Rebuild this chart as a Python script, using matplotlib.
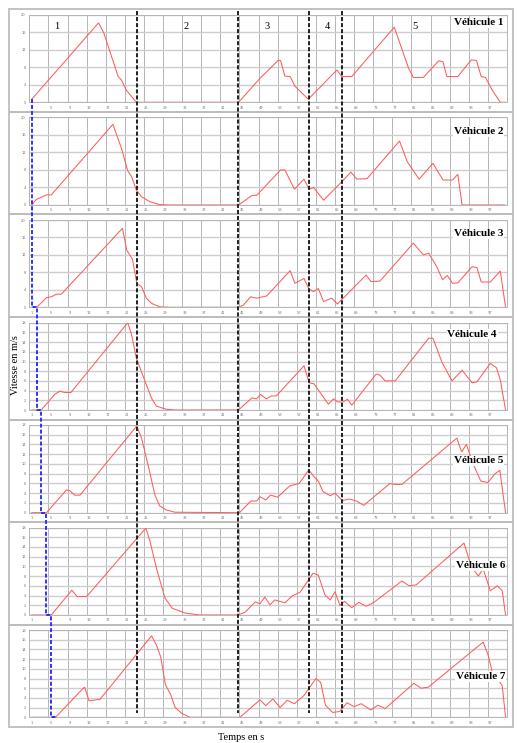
import numpy as np
import matplotlib
matplotlib.use('Agg')
import matplotlib.pyplot as plt
from matplotlib.lines import Line2D
from matplotlib.patches import Rectangle

# vitesses (m/s) en fonction du temps (s), une serie par vehicule
t_v1 = [1, 15, 16.1, 19.1, 19.8, 20.8, 22.9, 44.3, 48.8, 52.6, 53.1, 54.0, 55.1, 56.1, 58.9,
        64.9, 65.9, 68.0, 76.9, 79.9, 80.9, 83.0, 86.2, 87.1, 87.9, 90.2, 93.0, 94.1, 95.1,
        96.0, 97.4, 99.1, 100]
v_v1 = [0.7, 18.2, 15.9, 5.9, 5.1, 2.8, 0, 0, 5.5, 9.6, 9.6, 6.0, 5.9, 3.7, 0.7,
        7.4, 5.9, 5.9, 17.2, 7.8, 5.7, 5.7, 9.5, 9.3, 5.9, 5.9, 9.7, 9.6, 5.9,
        5.7, 2.8, 0, 0]

t_v2 = [1, 2, 4.1, 5.1, 18.0, 19.8, 21.1, 21.9, 22.9, 24.0, 25.7, 27.8, 30, 44.3, 46.0, 47.1,
        48.1, 53.1, 54.0, 56.0, 58.0, 59.1, 60.0, 62.1, 66.1, 67.8, 69.1, 71.2, 78.0, 79.6,
        82.1, 85.0, 87.1, 89.1, 90.2, 91.1, 100]
v_v2 = [0, 1.3, 2.3, 2.3, 18.4, 12.9, 7.8, 6.5, 3.4, 1.9, 0.75, 0.1, 0, 0, 1.3, 2.2,
        2.2, 8.0, 8.0, 3.6, 5.9, 3.6, 4.0, 1.1, 5.5, 7.5, 5.9, 6.0, 14.6, 9.9,
        5.9, 9.5, 5.7, 5.7, 7.0, 0, 0]

t_v3 = [1, 2.05, 4.1, 5.1, 6.2, 7.2, 20.0, 20.9, 22.1, 23.0, 24.0, 25.0, 26.1, 27.8, 30, 44.3,
        45.3, 46.8, 48.1, 50.2, 55.1, 56.1, 58.0, 59.1, 60.0, 61.0, 62.1, 63.8, 65.0, 71.0,
        72.0, 73.9, 80.9, 83.0, 84.1, 85.8, 87.0, 88.0, 89.1, 90.2, 93.2, 94.2, 95.1, 97.0,
        99.1, 100.2]
v_v3 = [0, 0, 2.2, 2.4, 3.0, 3.0, 18.1, 13.1, 11.0, 5.5, 4.7, 2.1, 0.9, 0.1, 0, 0,
        0.5, 2.4, 2.1, 2.6, 8.4, 5.5, 6.6, 4.1, 3.6, 4.3, 1.3, 2.1, 0.75, 7.4,
        5.9, 6.0, 14.7, 12.0, 12.4, 9.3, 6.3, 7.3, 5.5, 5.6, 9.3, 9.1, 5.8, 5.8,
        8.3, 0]

t_v4 = [1, 3.0, 5.8, 6.9, 7.9, 9.2, 21.1, 21.9, 22.9, 25.0, 26.1, 27.1, 29.2, 31, 44.3, 47.1,
        48.1, 48.9, 50.1, 51.2, 52.2, 58.0, 59.1, 60.1, 63.1, 64.2, 65.0, 66.1, 67.1, 68.0,
        73.1, 73.9, 75.0, 77.1, 84.1, 85.0, 86.9, 89.0, 91.1, 93.2, 94.2, 97.0, 98.3, 99.1,
        100.2]
v_v4 = [0, 0, 3.2, 3.9, 3.6, 3.6, 18.0, 15.6, 10.7, 5.2, 2.4, 0.8, 0.15, 0, 0, 2.5,
        2.3, 3.2, 2.3, 2.9, 2.9, 9.1, 5.6, 5.4, 1.2, 2.3, 1.7, 1.6, 2.2, 1.0,
        7.4, 7.2, 6.0, 6.0, 14.8, 14.8, 9.8, 6.0, 8.2, 5.6, 5.8, 9.6, 8.7, 6.2,
        0]

t_v5 = [1, 4.1, 8.3, 9.0, 10.0, 11.1, 23.0, 24.0, 25.6, 26.8, 27.8, 29.2, 31.0, 44.5, 46.9,
        48.1, 48.8, 50.0, 51.0, 52.5, 55.0, 57.0, 59.0, 60.0, 61.0, 62.0, 63.5, 64.5, 66.0,
        67.5, 69.0, 70.5, 76.0, 77.0, 78.5, 90.0, 91.0, 92.0, 93.5, 95.0, 96.5, 98.0, 99.0,
        100.2]
v_v5 = [0, 0, 4.7, 4.5, 3.6, 3.6, 17.8, 15.3, 8.8, 3.6, 1.4, 0.55, 0.1, 0, 2.4,
        2.4, 3.3, 2.6, 3.6, 3.2, 5.5, 6.0, 8.8, 7.5, 6.5, 4.3, 3.5, 4.0, 2.5,
        2.8, 2.4, 1.5, 6.0, 5.8, 5.8, 15.3, 12.5, 14.0, 9.8, 6.5, 6.2, 8.0, 8.7,
        0]

t_v6 = [1, 5.1, 9.4, 10.5, 12.5, 24.9, 25.7, 27.2, 28.9, 30.4, 33.1, 36.2, 44.2, 45.7, 47.8,
        48.8, 49.8, 50.9, 51.9, 54.0, 55.5, 57.2, 59.9, 61.0, 62.4, 63.5, 64.5, 65.5, 66.5,
        68.0, 69.5, 71.0, 72.5, 78.5, 80.0, 81.5, 91.5, 93.0, 94.5, 95.5, 97.0, 98.5, 99.5,
        100.2]
v_v6 = [0, 0, 5.1, 3.8, 3.8, 17.9, 15.4, 9.3, 3.5, 1.4, 0.4, 0, 0, 0.6, 2.7,
        2.3, 3.7, 2.1, 3.1, 2.5, 3.9, 4.7, 8.6, 8.2, 4.1, 3.1, 4.8, 2.0, 2.8,
        1.5, 2.6, 1.8, 2.5, 7.0, 6.0, 6.2, 14.8, 10.0, 8.0, 9.5, 5.0, 6.0, 5.0,
        0]

t_v7 = [1, 6.0, 11.8, 12.1, 13.0, 15.3, 26.1, 27.1, 28.0, 29.0, 30.1, 31.0, 32.4, 34.1, 44.6,
        48.8, 50.0, 51.5, 53.0, 54.5, 56.0, 58.0, 60.5, 61.5, 62.5, 64.0, 65.5, 67.0, 68.5,
        70.0, 72.0, 73.5, 75.0, 81.0, 82.5, 84.0, 95.5, 96.5, 97.5, 98.5, 99.5, 100.2]
v_v7 = [0, 0, 6.0, 6.2, 3.4, 3.7, 16.8, 14.9, 12.5, 6.7, 4.7, 2.1, 0.8, 0, 0,
        3.6, 2.4, 3.8, 2.0, 3.5, 2.8, 4.5, 8.0, 7.2, 2.5, 1.0, 1.2, 3.0, 2.2,
        2.8, 1.5, 2.5, 1.8, 7.0, 6.0, 6.2, 15.5, 13.0, 9.0, 8.0, 6.5, 0]

temps = [t_v1, t_v2, t_v3, t_v4, t_v5, t_v6, t_v7]
vitesses = [v_v1, v_v2, v_v3, v_v4, v_v5, v_v6, v_v7]
vmax = [20, 20, 20, 18, 18, 18, 18]
vpas = [4, 4, 4, 2, 2, 2, 2]

# instants de depart des vehicules et limites des phases
depart = [1, 1, 2.05, 3.0, 4.05, 5.1, 6.0]
phases = [23.0, 44.2, 59.1, 66.0]
noms_phases = ['1', '2', '3', '4', '5']
x_noms_phases = [6.2, 33.4, 50.2, 62.8, 81.3]
y_titres = [0.91, 0.84, 0.84, 0.87, 0.59, 0.56, 0.47]
x_titres = [0.992, 0.992, 0.992, 0.979, 0.992, 0.996, 0.996]

W, H = 517.0, 743.0
haut = [15, 117.3, 220, 322.7, 425, 527.5, 630]
bas = [102.3, 205, 307.3, 410, 512.7, 615, 717.3]
cadres = [9.3, 112.3, 214.3, 317.3, 420, 522.3, 625, 726.7]
gauche, droite = 29.3, 507.0

serif = 'Liberation Serif'
fig = plt.figure(figsize=(W / 100, H / 100), dpi=100)
fig.patch.set_facecolor('white')

# cadres des graphiques
for k in range(7):
    fig.add_artist(Rectangle((9.3 / W, 1 - cadres[k + 1] / H), (512.5 - 9.3) / W,
                             (cadres[k + 1] - cadres[k]) / H, transform=fig.transFigure,
                             fill=False, ec='#bdbdbd', lw=1.3))

axes = []
for i in range(7):
    ax = fig.add_axes([gauche / W, 1 - bas[i] / H, (droite - gauche) / W, (bas[i] - haut[i]) / H])
    ax.plot(temps[i], vitesses[i], color='#ff5c5c', lw=0.75, zorder=3)
    ax.set_xlim(0.5, 100.5)
    ax.set_ylim(0, vmax[i])
    ax.set_xticks(np.arange(1, 100, 4))
    ax.set_xticklabels([str(x) for x in range(1, 100, 4)])
    ax.set_xticks(np.arange(0.5, 101, 4), minor=True)
    ax.set_yticks(np.arange(0, vmax[i] + 1, vpas[i]))
    ax.grid(which='minor', axis='x', color='#a9a9a9', lw=0.6)
    ax.grid(which='major', axis='y', color='#cdcdcd', lw=1.0)
    ax.tick_params(which='both', length=0, labelsize=2.6, colors='#777777', pad=2.5)
    for s in ax.spines.values():
        s.set_color('#b5b5b5')
        s.set_linewidth(0.7)
    ax.text(x_titres[i], y_titres[i], 'Véhicule %d' % (i + 1), transform=ax.transAxes,
            ha='right', va='center', fontsize=8, fontweight='bold', family=serif, zorder=5,
            bbox=dict(fc='white', ec='none', pad=0.6))
    axes.append(ax)

for nom, xp in zip(noms_phases, x_noms_phases):
    axes[0].text(xp, 17.4, nom, ha='center', va='center', fontsize=7.5, family=serif)

# lignes de separation des phases (sur toute la hauteur)
trans = matplotlib.transforms.blended_transform_factory(axes[0].transData, fig.transFigure)
for p in phases:
    fig.add_artist(Line2D([p, p], [1 - 11 / H, 1 - 713 / H], transform=trans, color='#202020',
                          lw=1.4, linestyle=(0, (2.1, 1.0)), zorder=10))

# escalier bleu des departs
inv = fig.transFigure.inverted()
pts = [axes[0].transData.transform((depart[0], v_v1[0]))]
for i in range(1, 7):
    pts.append(axes[i].transData.transform((depart[i - 1], 0)))
    pts.append(axes[i].transData.transform((depart[i], 0)))
pts = inv.transform(np.array(pts))
fig.add_artist(Line2D(pts[:, 0], pts[:, 1], transform=fig.transFigure, color='#2323ff',
                      lw=1.3, linestyle=(0, (2.2, 1.1)), zorder=11))

fig.text(15 / W, 1 - 365 / H, 'Vitesse en m/s', rotation=90, ha='center', va='center',
         fontsize=7.5, family=serif)
fig.text(241 / W, 1 - 738 / H, 'Temps en s', ha='center', va='center', fontsize=7.5, family=serif)

fig.savefig('out.png', dpi=100)
